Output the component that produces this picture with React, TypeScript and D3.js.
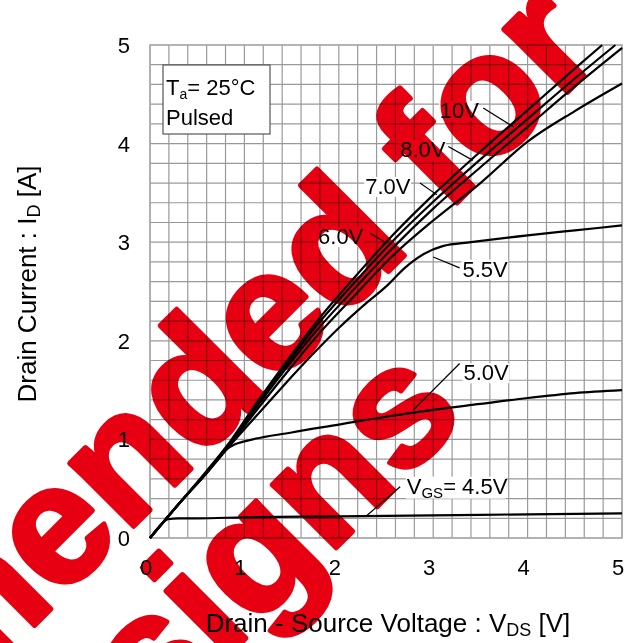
import React from 'react';
import * as d3 from 'd3';

// Drain current vs drain-source voltage, one curve per gate voltage
const vds10 = [0, 0.3, 0.6, 0.85, 1.1, 1.4, 1.77, 2.1, 2.58, 3.0, 3.5, 4.0, 4.5, 4.79];
const id10 = [0, 0.34, 0.68, 0.98, 1.33, 1.73, 2.2, 2.57, 3.08, 3.48, 3.92, 4.34, 4.76, 5.0];

const vds8 = [0, 0.3, 0.6, 0.85, 1.1, 1.4, 1.77, 2.1, 2.58, 3.0, 3.5, 4.0, 4.5, 4.93];
const id8 = [0, 0.34, 0.67, 0.97, 1.31, 1.7, 2.16, 2.52, 3.02, 3.41, 3.84, 4.25, 4.66, 5.0];

const vds7 = [0, 0.3, 0.6, 0.85, 1.1, 1.4, 1.77, 2.1, 2.58, 3.0, 3.5, 4.0, 4.5, 5.0];
const id7 = [0, 0.34, 0.67, 0.96, 1.29, 1.67, 2.11, 2.46, 2.95, 3.34, 3.76, 4.17, 4.58, 4.97];

const vds6 = [0, 0.3, 0.6, 0.85, 1.1, 1.4, 1.77, 2.1, 2.58, 3.0, 3.5, 4.0, 4.5, 5.0];
const id6 = [0, 0.34, 0.66, 0.95, 1.26, 1.62, 2.05, 2.39, 2.87, 3.22, 3.6, 4.02, 4.33, 4.61];

const vds55 = [0, 0.3, 0.6, 0.85, 1.1, 1.4, 1.7, 2.0, 2.3, 2.5, 2.7, 2.9, 3.1, 3.4, 4.0, 4.5, 5.0];
const id55 = [0, 0.34, 0.66, 0.94, 1.21, 1.53, 1.84, 2.13, 2.39, 2.55, 2.74, 2.88, 2.96, 3.0, 3.07, 3.12, 3.17];

const vds50 = [0, 0.3, 0.6, 0.8, 0.9, 1.0, 1.5, 2.0, 2.5, 3.0, 3.5, 4.0, 4.5, 5.0];
const id50 = [0, 0.34, 0.66, 0.89, 0.95, 0.98, 1.07, 1.15, 1.23, 1.3, 1.36, 1.42, 1.47, 1.5];

const vds45 = [0, 0.1, 0.19, 0.3, 0.5, 1, 2, 3, 4, 5];
const id45 = [0, 0.12, 0.19, 0.2, 0.2, 0.21, 0.22, 0.23, 0.24, 0.25];

const xTicks = [0, 1, 2, 3, 4, 5];
const yTicks = [0, 1, 2, 3, 4, 5];

// curve labels: text, text anchor point and leader line, in data units
const labelText = ['10V', '8.0V', '7.0V', '6.0V', '5.5V', '5.0V'];
const labelAt = [[3.07, 4.26], [2.65, 3.86], [2.28, 3.49], [1.78, 2.98], [3.31, 2.65], [3.32, 1.6]];
const leaderFrom = [[3.53, 4.36], [3.16, 3.97], [2.86, 3.6], [2.33, 3.09], [3.0, 2.85], [3.28, 1.77]];
const leaderTo = [[3.85, 4.17], [3.42, 3.83], [3.04, 3.48], [2.51, 2.99], [3.28, 2.74], [2.79, 1.3]];

const vgsLabelAt = [2.72, 0.45];
const vgsLeader = [[2.65, 0.52], [2.3, 0.23]];

const W = 631;
const H = 643;
const FONT = 'Liberation Sans, Arial, sans-serif';

const App: React.FC = () => {
  const x = d3.scaleLinear().domain([0, 5]).range([150, 622]);
  const y = d3.scaleLinear().domain([0, 5]).range([538, 45]);

  const series = [
    [vds10, id10],
    [vds8, id8],
    [vds7, id7],
    [vds6, id6],
    [vds55, id55],
    [vds50, id50],
    [vds45, id45],
  ];

  const line = d3
    .line<[number, number]>()
    .x((d) => x(d[0]))
    .y((d) => y(d[1]))
    .curve(d3.curveMonotoneX);

  const grid = d3.range(0, 5.0001, 0.2);
  const fs = 22;

  return (
    <svg
      width={W}
      height={H}
      style={{ position: 'absolute', left: 0, top: 0, display: 'block' }}
      fontFamily={FONT}
    >
      <rect width={W} height={H} fill="#fff" />

      {/* grid */}
      <g stroke="#999" strokeWidth={1.2}>
        {grid.map((v, i) => (
          <line key={'gx' + i} x1={x(v)} x2={x(v)} y1={y(0)} y2={y(5)} />
        ))}
        {grid.map((v, i) => (
          <line key={'gy' + i} x1={x(0)} x2={x(5)} y1={y(v)} y2={y(v)} />
        ))}
      </g>
      <rect x={x(0)} y={y(5)} width={x(5) - x(0)} height={y(0) - y(5)} fill="none" stroke="#aaa" strokeWidth={1.5} />

      {/* tick labels */}
      {xTicks.map((t) => (
        <text key={'xt' + t} x={x(t) - 4} y={575} fontSize={fs} textAnchor="middle">
          {t}
        </text>
      ))}
      {yTicks.map((t) => (
        <text key={'yt' + t} x={130} y={y(t)} dy="0.36em" fontSize={fs} textAnchor="end">
          {t}
        </text>
      ))}

      {/* axis titles */}
      <text x={388} y={632} fontSize={26} textAnchor="middle">
        Drain - Source Voltage : V<tspan fontSize={18} dy={4}>DS</tspan>
        <tspan dy={-4}> [V]</tspan>
      </text>
      <text transform="translate(36,284) rotate(-90)" fontSize={26} textAnchor="middle">
        Drain Current : I<tspan fontSize={18} dy={4}>D</tspan>
        <tspan dy={-4}> [A]</tspan>
      </text>

      {/* condition box */}
      <rect x={163} y={65} width={107} height={69} fill="#fff" stroke="#555" strokeWidth={1.2} />
      <text x={166} y={95} fontSize={fs}>
        T<tspan fontSize={14} dy={4}>a</tspan>
        <tspan dy={-4}>= 25°C</tspan>
      </text>
      <text x={166} y={125} fontSize={fs}>
        Pulsed
      </text>

      {/* curves */}
      <g fill="none" stroke="#000" strokeWidth={2.2}>
        {series.map(([vs, is], k) => (
          <path key={'c' + k} d={line(vs.map((v, i) => [v, is[i]] as [number, number])) || ''} />
        ))}
      </g>

      {/* labels */}
      {labelText.map((t, i) => (
        <g key={'l' + i}>
          <rect
            x={x(labelAt[i][0]) - 1}
            y={y(labelAt[i][1]) - 17}
            width={t.length * 11.2 + 2}
            height={20}
            fill="#fff"
          />
          <line
            x1={x(leaderFrom[i][0])}
            y1={y(leaderFrom[i][1])}
            x2={x(leaderTo[i][0])}
            y2={y(leaderTo[i][1])}
            stroke="#000"
            strokeWidth={1.2}
          />
          <text x={x(labelAt[i][0])} y={y(labelAt[i][1])} fontSize={fs}>
            {t}
          </text>
        </g>
      ))}
      <rect x={x(vgsLabelAt[0]) - 1} y={y(vgsLabelAt[1]) - 17} width={100} height={22} fill="#fff" />
      <line
        x1={x(vgsLeader[0][0])}
        y1={y(vgsLeader[0][1])}
        x2={x(vgsLeader[1][0])}
        y2={y(vgsLeader[1][1])}
        stroke="#000"
        strokeWidth={1.2}
      />
      <text x={x(vgsLabelAt[0])} y={y(vgsLabelAt[1])} fontSize={fs}>
        V<tspan fontSize={15} dy={4}>GS</tspan>
        <tspan dy={-4}>= 4.5V</tspan>
      </text>

      {/* watermark */}
      <g
        style={{ mixBlendMode: 'multiply' }}
        fill="#e60012"
        stroke="#e60012"
        strokeWidth={5}
        strokeLinejoin="round"
        fontSize={170}
        fontWeight="bold"
        textAnchor="end"
      >
        <text transform="translate(606,54) rotate(-45)">Not recommended for</text>
        <text transform="translate(468,416) rotate(-45)">new designs</text>
      </g>
    </svg>
  );
};

export default App;
